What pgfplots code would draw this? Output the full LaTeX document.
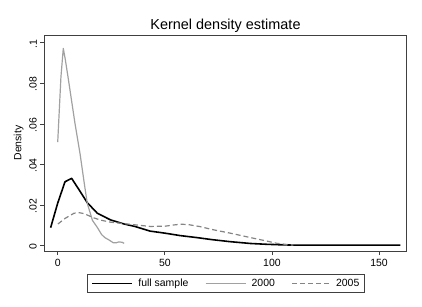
\documentclass[border=0pt]{standalone}
\usepackage{fontspec}
\setmainfont{Liberation Sans}
\usepackage{pgfplots}
\pgfplotsset{compat=1.18}

\definecolor{frame}{gray}{0.25}
\definecolor{gray2000}{gray}{0.63}
\definecolor{gray2005}{gray}{0.52}

\begin{document}
\begin{tikzpicture}[x=1bp,y=1bp]
\path[use as bounding box] (-44.3,-56) rectangle (377.7,251);
\begin{axis}[
  at={(0,0)}, anchor=south west,
  scale only axis,
  width=362.4bp, height=216bp,
  xmin=-6.26, xmax=162.9,
  ymin=-0.0026, ymax=0.1038,
  xtick={0,50,100,150},
  ytick={0,0.02,0.04,0.06,0.08,0.1},
  yticklabels={0,.02,.04,.06,.08,.1},
  /pgf/number format/assume math mode=true,
  tick align=outside,
  major tick length=4bp,
  xtick pos=bottom, ytick pos=left,
  axis line style={frame, line width=0.9pt},
  tick style={frame, line width=0.7pt},
  ticklabel style={font=\fontsize{10.5}{12}\selectfont},
  yticklabel style={rotate=90, anchor=south, xshift=-1bp},
  xticklabel style={yshift=-1bp},
  ylabel={Density},
  ylabel style={font=\fontsize{10.5}{12}\selectfont, yshift=-1bp},
  title={Kernel density estimate},
  title style={font=\fontsize{14.5}{16}\selectfont, yshift=-7bp},
  legend columns=3,
  legend style={
    at={(0.5,-0.108)}, anchor=north,
    draw=frame, line width=0.7pt,
    font=\fontsize{10.5}{12}\selectfont,
    inner xsep=4.5bp, inner ysep=3.5bp,
    nodes={inner xsep=0pt, inner ysep=1bp},
    /tikz/every odd column/.append style={column sep=5.6bp},
    /tikz/every even column/.append style={column sep=16.7bp},
  },
  legend cell align=left,
]
% full sample
\addplot[black, line width=1.6pt, line join=round, forget plot] coordinates {
  (-3.3,0.0089) (0.0,0.0210) (3.4,0.0315) (6.5,0.0332)
  (10.0,0.0275) (13.8,0.0212) (18.5,0.0160) (24.7,0.0127)
  (31.0,0.0107) (36.0,0.0095) (43.1,0.0072) (50.0,0.0062)
  (57.1,0.0050) (65.0,0.0040) (72.0,0.0030) (80.5,0.0020)
  (90.0,0.0011) (97.6,0.0007) (103.0,0.0005) (110.0,0.0003)
  (130.0,0.0003) (160.0,0.0003)
};
% 2000
\addplot[gray2000, line width=1.2pt, line join=round, forget plot] coordinates {
  (0.0,0.0510) (1.5,0.0830) (2.6,0.0972) (3.5,0.0920)
  (4.9,0.0825) (8.1,0.0600) (10.4,0.0455) (12.5,0.0300)
  (13.8,0.0209) (16.2,0.0125) (18.5,0.0090) (20.5,0.0055)
  (22.0,0.0040) (24.0,0.0028) (26.0,0.0014) (27.5,0.0015)
  (28.5,0.0019) (30.0,0.0017) (31.0,0.0012)
};
% 2005
\addplot[gray2005, line width=1.2pt, dash pattern=on 5bp off 3bp, line join=round, forget plot] coordinates {
  (0.1,0.0107) (3.5,0.0135) (7.6,0.0160) (10.0,0.0163)
  (12.3,0.0158) (16.9,0.0137) (20.0,0.0126) (24.7,0.0116)
  (30.0,0.0110) (38.7,0.0100) (43.1,0.0095) (50.0,0.0096)
  (54.0,0.0102) (57.5,0.0106) (61.0,0.0104) (66.5,0.0094)
  (72.0,0.0080) (80.5,0.0062) (90.0,0.0040) (97.6,0.0023)
  (102.2,0.0012) (107.0,0.0006) (110.0,0.0003)
};
% legend keys, drawn with thinner strokes than the curves
\addlegendimage{legend image code/.code={\draw[black, line width=1.2pt] (0bp,0bp) -- (40bp,0bp);}}
\addlegendentry{full sample}
\addlegendimage{legend image code/.code={\draw[gray2000, line width=0.9pt] (0bp,0bp) -- (40bp,0bp);}}
\addlegendentry{2000}
\addlegendimage{legend image code/.code={\draw[gray2005, line width=0.9pt, dash pattern=on 5bp off 3bp] (0bp,0bp) -- (38bp,0bp);}}
\addlegendentry{2005}
\end{axis}
\end{tikzpicture}
\end{document}
